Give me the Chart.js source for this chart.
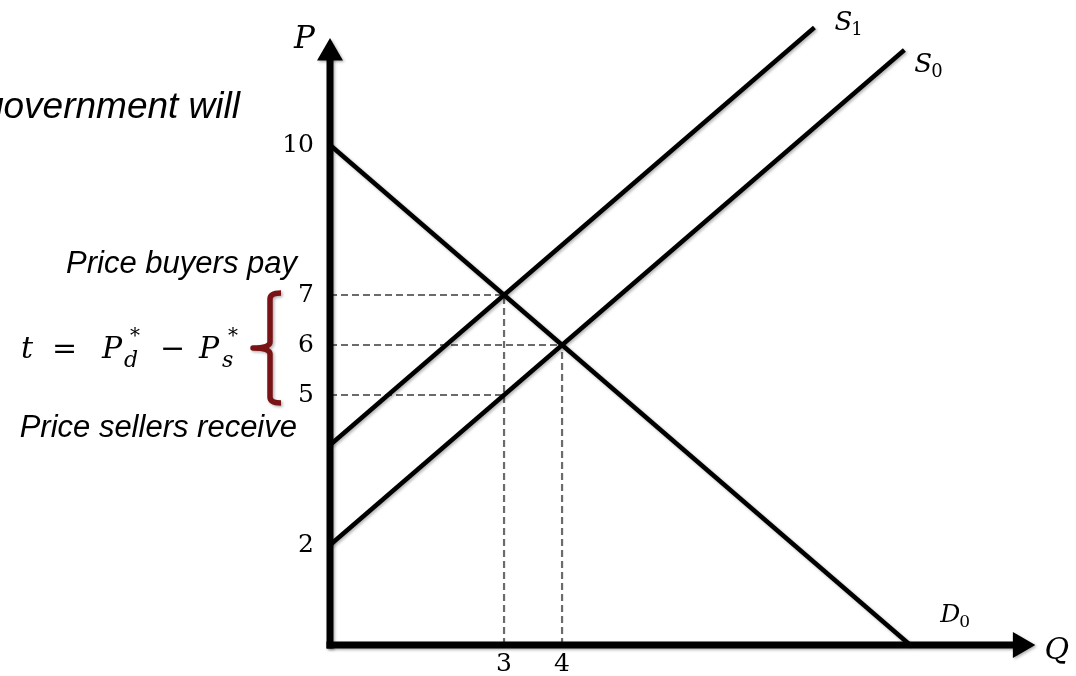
<!DOCTYPE html>
<html>
<head>
  <title>Tax on sellers</title>
  <script src="https://cdn.jsdelivr.net/npm/chart.js"></script>
  <style>
    body { margin: 0; background: #fff; }
    canvas { display: block; }
  </style>
</head>
<body>
  <canvas id="taxChart" width="1076" height="676"></canvas>
  <script>
    // curve endpoints (Q, P)
    const demandQ = [0, 10];
    const demandP = [10, 0];
    const supply0Q = [0, 9.9];
    const supply0P = [2, 11.9];
    const supply1Q = [0, 8.35];
    const supply1P = [4, 12.35];

    // equilibria: with tax (S1) and without (S0)
    const taxQ = 3, buyersP = 7, sellersP = 5;
    const freeQ = 4, freeP = 6;

    const xTicks = [3, 4];
    const yTicks = [2, 5, 6, 7, 10];

    const axisEndQ = 11.9, axisEndP = 11.84;

    const pts = (qs, ps) => qs.map((q, i) => ({ x: q, y: ps[i] }));

    const solid = (data, tag) => ({
      data, tag, borderColor: '#000', borderWidth: 4.5, showLine: true,
      pointRadius: 0, clip: false, shadow: true
    });
    const dashed = (data) => ({
      data, borderColor: '#6b6b6b', borderWidth: 2.2, borderDash: [7, 4],
      showLine: true, pointRadius: 0, clip: false
    });
    const axisLine = (data, rot) => ({
      data, borderColor: '#000', backgroundColor: '#000', borderWidth: 7,
      borderCapStyle: 'square', showLine: true, pointStyle: 'triangle',
      pointRadius: [0, 15], pointRotation: rot, pointBorderWidth: 0,
      clip: false, shadow: true
    });

    const serif = '"DejaVu Serif", "Liberation Serif", serif';
    const sans = '"Liberation Sans", Arial, sans-serif';

    function mathLabel(ctx, x, y, main, sub, size) {
      ctx.font = 'italic ' + size + 'px ' + serif;
      ctx.fillText(main, x, y);
      const w = ctx.measureText(main).width;
      if (sub) {
        ctx.font = Math.round(size * 0.68) + 'px ' + serif;
        ctx.fillText(sub, x + w - 1, y + 5);
      }
    }

    const shadowPlugin = {
      id: 'shadow',
      beforeDatasetDraw(chart, args) {
        const ds = chart.data.datasets[args.index];
        if (!ds.shadow) return;
        const ctx = chart.ctx;
        ctx.save();
        ctx.shadowColor = 'rgba(0,0,0,0.3)';
        ctx.shadowBlur = 3;
        ctx.shadowOffsetX = 1.5;
        ctx.shadowOffsetY = 1.5;
      },
      afterDatasetDraw(chart, args) {
        if (chart.data.datasets[args.index].shadow) chart.ctx.restore();
      }
    };

    const notesPlugin = {
      id: 'notes',
      afterDraw(chart) {
        const ctx = chart.ctx;
        const xs = chart.scales.x, ys = chart.scales.y;
        ctx.save();
        ctx.fillStyle = '#000';
        ctx.textBaseline = 'alphabetic';
        ctx.textAlign = 'left';

        // curve labels at the end of each curve
        chart.data.datasets.forEach(ds => {
          if (!ds.tag) return;
          const last = ds.data[ds.data.length - 1];
          const px = xs.getPixelForValue(last.x), py = ys.getPixelForValue(last.y);
          mathLabel(ctx, px + ds.tag.dx, py + ds.tag.dy, ds.tag.main, ds.tag.sub, ds.tag.size);
        });

        // side notes
        ctx.textAlign = 'right';
        ctx.font = 'italic 37px ' + sans;
        ctx.fillText('government will', 240, 118);
        ctx.font = 'italic 31px ' + sans;
        ctx.fillText('Price buyers pay', 297, 273);
        ctx.fillText('Price sellers receive', 297, 437);

        // t = Pd* - Ps*
        ctx.textAlign = 'left';
        const fy = 358;
        ctx.font = 'italic 30px ' + serif;
        ctx.fillText('t', 21, fy);
        ctx.fillText('P', 102, fy);
        ctx.fillText('P', 199, fy);
        ctx.font = '30px ' + serif;
        ctx.fillText('=', 52, fy);
        ctx.fillText('\u2212', 160, fy);
        ctx.font = '20px ' + serif;
        ctx.fillText('*', 130, fy - 16);
        ctx.fillText('*', 228, fy - 16);
        ctx.font = 'italic 22px ' + serif;
        ctx.fillText('d', 124, fy + 9);
        ctx.fillText('s', 222, fy + 9);

        // brace
        const top = ys.getPixelForValue(buyersP) - 2;
        const bot = ys.getPixelForValue(sellersP) + 8;
        const mid = (top + bot) / 2;
        const bx = 270;
        ctx.strokeStyle = '#7a1315';
        ctx.lineWidth = 5.5;
        ctx.lineJoin = 'round';
        ctx.shadowColor = 'rgba(0,0,0,0.3)';
        ctx.shadowBlur = 3;
        ctx.shadowOffsetX = 1.5;
        ctx.shadowOffsetY = 1.5;
        ctx.beginPath();
        ctx.moveTo(bx + 11, top);
        ctx.quadraticCurveTo(bx, top, bx, top + 6);
        ctx.lineTo(bx, mid - 6);
        ctx.quadraticCurveTo(bx, mid, bx - 17, mid);
        ctx.quadraticCurveTo(bx, mid, bx, mid + 6);
        ctx.lineTo(bx, bot - 6);
        ctx.quadraticCurveTo(bx, bot, bx + 11, bot);
        ctx.stroke();
        ctx.restore();
      }
    };

    new Chart(document.getElementById('taxChart'), {
      type: 'scatter',
      data: {
        datasets: [
          axisLine([{ x: 0, y: 0 }, { x: 0, y: axisEndP }], 0),
          axisLine([{ x: 0, y: 0 }, { x: axisEndQ, y: 0 }], 90),
          solid(pts(demandQ, demandP), { main: 'D', sub: '0', dx: 30, dy: -23, size: 25 }),
          solid(pts(supply0Q, supply0P), { main: 'S', sub: '0', dx: 10, dy: 22, size: 26 }),
          solid(pts(supply1Q, supply1P), { main: 'S', sub: '1', dx: 20, dy: 2, size: 26 }),
          dashed(pts([0, taxQ], [buyersP, buyersP])),
          dashed(pts([0, freeQ], [freeP, freeP])),
          dashed(pts([0, taxQ], [sellersP, sellersP])),
          dashed(pts([taxQ, taxQ], [0, buyersP])),
          dashed(pts([freeQ, freeQ], [0, freeP])),
          // axis names
          { data: [{ x: 0, y: axisEndP }], pointRadius: 0, tag: { main: 'P', dx: -36, dy: -5, size: 31 } },
          { data: [{ x: axisEndQ, y: 0 }], pointRadius: 0, tag: { main: 'Q', dx: 24, dy: 14, size: 30 } }
        ]
      },
      options: {
        responsive: false,
        animation: false,
        events: [],
        layout: { padding: { top: 0, right: 15, left: 0, bottom: 0 } },
        plugins: { legend: { display: false }, tooltip: { enabled: false } },
        scales: {
          x: {
            type: 'linear', min: 0, max: 12.6,
            grid: { display: false, drawTicks: false },
            border: { display: false },
            afterFit: s => { s.height = 30; },
            afterBuildTicks: s => { s.ticks = xTicks.map(v => ({ value: v })); },
            ticks: { autoSkip: false, maxRotation: 0, padding: 4, color: '#000',
              font: { family: serif, size: 25 } }
          },
          y: {
            type: 'linear', min: 0, max: 12.28,
            grid: { display: false, drawTicks: false },
            border: { display: false },
            afterFit: s => { s.width = 330; },
            afterBuildTicks: s => { s.ticks = yTicks.map(v => ({ value: v })); },
            ticks: { autoSkip: false, padding: 16, color: '#000',
              font: { family: serif, size: 25 } }
          }
        }
      },
      plugins: [shadowPlugin, notesPlugin]
    });
  </script>
</body>
</html>
